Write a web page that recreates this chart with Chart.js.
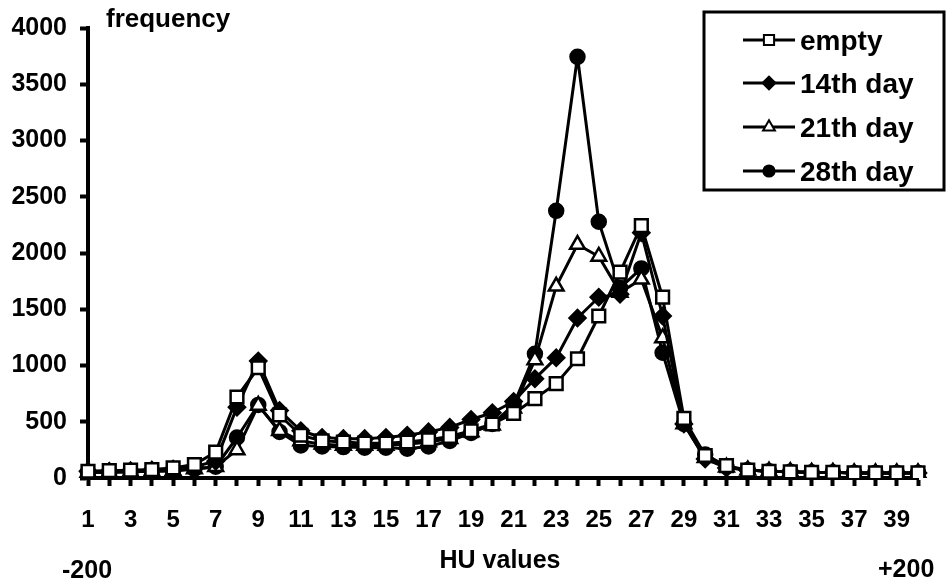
<!DOCTYPE html>
<html>
<head>
<meta charset="utf-8">
<script src="https://cdn.jsdelivr.net/npm/chart.js@4/dist/chart.umd.min.js"></script>
<style>
  html, body { margin: 0; padding: 0; background: #fff; }
  #wrap { width: 949px; height: 582px; position: relative; }
</style>
</head>
<body>
<div id="wrap"><canvas id="c" width="949" height="582"></canvas></div>
<script>
const categories = ['1','2','3','4','5','6','7','8','9','10','11','12','13','14','15','16','17','18','19','20',
  '21','22','23','24','25','26','27','28','29','30','31','32','33','34','35','36','37','38','39','40'];

const emptySeries = [60,65,70,75,90,120,230,720,980,560,380,330,320,310,310,320,340,370,420,480,
  574,706,839,1060,1440,1830,2243,1607,530,200,110,70,60,55,50,50,45,45,45,45];
const day14Series = [60,60,65,70,80,100,150,630,1040,600,420,360,350,350,360,380,410,450,520,580,
  680,883,1068,1422,1607,1634,2180,1440,480,170,90,70,60,55,50,50,45,45,45,45];
const day21Series = [50,50,55,60,65,80,100,250,645,420,330,300,290,290,290,300,320,350,410,470,
  620,1050,1704,2075,1969,1650,1766,1245,480,180,95,70,60,55,50,50,45,45,45,45];
const day28Series = [50,50,55,60,65,80,100,360,650,410,290,280,275,270,270,260,280,330,400,480,
  650,1104,2375,3744,2278,1690,1863,1113,480,210,100,70,60,55,50,50,45,45,45,45];

const seriesNames = ['empty','14th day','21th day','28th day'];
const yTicks = [0,500,1000,1500,2000,2500,3000,3500,4000];

const FONT = "'Liberation Sans', Arial, sans-serif";

function ds(label, data, style, radius, fill) {
  return {
    label, data,
    borderColor: '#000', borderWidth: 3,
    pointStyle: style, pointRadius: radius, pointHoverRadius: radius,
    pointBackgroundColor: fill, pointBorderColor: '#000', pointBorderWidth: 2.5,
    tension: 0, fill: false
  };
}

const datasets = [
  ds(seriesNames[0], emptySeries, 'rect', 9, '#fff'),
  ds(seriesNames[1], day14Series, 'rectRot', 8, '#000'),
  ds(seriesNames[2], day21Series, 'triangle', 8.5, '#fff'),
  ds(seriesNames[3], day28Series, 'circle', 7, '#000')
];

const extras = {
  id: 'extras',
  afterDraw(chart) {
    const ctx = chart.ctx;
    ctx.save();
    ctx.fillStyle = '#000';
    ctx.textBaseline = 'alphabetic';
    ctx.font = "bold 26px " + FONT;
    ctx.textAlign = 'left';
    ctx.fillText('frequency', 106, 27);
    ctx.font = "bold 25px " + FONT;
    ctx.textAlign = 'center';
    ctx.fillText('HU values', 500, 568);
    ctx.textAlign = 'left';
    ctx.fillText('-200', 62, 578);
    ctx.fillText('+200', 878, 577);

    // legend
    ctx.lineWidth = 3;
    ctx.strokeStyle = '#000';
    ctx.strokeRect(704, 12, 240, 178);
    const rows = [40, 83, 127, 171];
    chart.data.datasets.forEach((d, i) => {
      const y = rows[i];
      ctx.beginPath();
      ctx.lineWidth = 3;
      ctx.strokeStyle = '#000';
      ctx.moveTo(743, y);
      ctx.lineTo(795, y);
      ctx.stroke();
      ctx.fillStyle = d.pointBackgroundColor;
      ctx.strokeStyle = '#000';
      ctx.lineWidth = 2;
      Chart.helpers.drawPoint(ctx, {
        pointStyle: d.pointStyle, rotation: 0, borderWidth: 2,
        radius: d.pointRadius * 0.8
      }, 769, y);
      ctx.fillStyle = '#000';
      ctx.font = "bold 28px " + FONT;
      ctx.textAlign = 'left';
      ctx.fillText(d.label, 800, y + 10);
    });
    ctx.restore();
  }
};

new Chart(document.getElementById('c'), {
  type: 'line',
  data: { labels: categories, datasets },
  options: {
    responsive: false,
    animation: false,
    devicePixelRatio: 1,
    layout: { padding: { left: 0, right: 31, top: 25, bottom: 0 } },
    plugins: { legend: { display: false }, tooltip: { enabled: false } },
    elements: { line: { borderJoinStyle: 'round' } },
    scales: {
      x: {
        type: 'category',
        offset: false,
        grid: { display: true, drawOnChartArea: false, tickLength: 8, tickWidth: 4, tickColor: '#000', offset: false },
        border: { display: true, color: '#000', width: 4 },
        ticks: {
          autoSkip: false, maxRotation: 0, minRotation: 0, padding: 20,
          color: '#000', font: { family: FONT, size: 24, weight: 'bold' },
          callback: (v, i) => (i % 2 === 0 ? categories[i] : '')
        },
        afterFit: (s) => { s.height = 104; }
      },
      y: {
        min: 0, max: 4000,
        afterBuildTicks: (s) => { s.ticks = yTicks.map(v => ({ value: v })); },
        grid: { display: true, drawOnChartArea: false, tickLength: 8, tickWidth: 4, tickColor: '#000' },
        border: { display: true, color: '#000', width: 4 },
        ticks: {
          padding: 13, color: '#000',
          font: { family: FONT, size: 25, weight: 'bold' },
          callback: (v) => String(v)
        },
        afterFit: (s) => { s.width = 88; }
      }
    }
  },
  plugins: [extras]
});
</script>
</body>
</html>
